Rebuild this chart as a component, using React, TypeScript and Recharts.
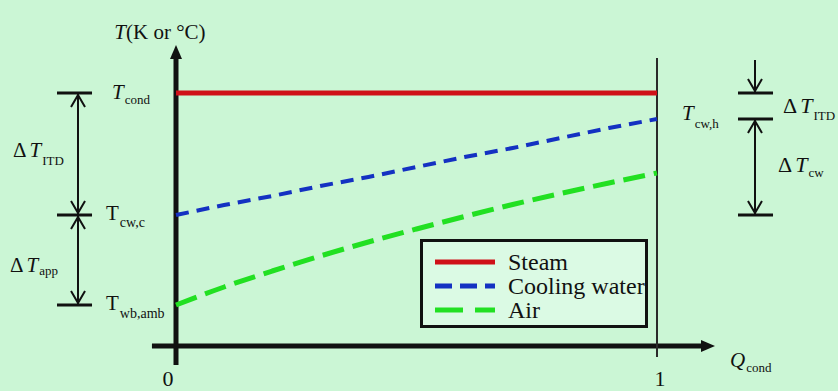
import { LineChart, Line, XAxis, YAxis, ReferenceLine, ReferenceDot, Legend } from 'recharts';

// Q_cond (normalised heat load) along the condenser
const qValues = [0, 0.1, 0.2, 0.3, 0.4, 0.5, 0.6, 0.7, 0.8, 0.9, 1];
// temperatures, arbitrary units
const steamTemp = [25.3, 25.3, 25.3, 25.3, 25.3, 25.3, 25.3, 25.3, 25.3, 25.3, 25.3];
const coolingWaterTemp = [13.1, 14.1, 15.0, 16.0, 16.9, 17.9, 18.9, 19.8, 20.8, 21.8, 22.7];
const airTemp = [4.1, 5.9, 7.5, 9.0, 10.4, 11.7, 12.95, 14.15, 15.25, 16.3, 17.3];
const xTicks = [0, 1];
const xTickLabels = ['0', '1'];

const SERIES = [
  { key: 'steam', name: 'Steam', color: '#cf1018', width: 5, dash: undefined, legendDash: undefined },
  { key: 'water', name: 'Cooling water', color: '#1431c2', width: 4, dash: '13 8', legendDash: '17 8' },
  { key: 'air', name: 'Air', color: '#22e022', width: 5, dash: '22 9', legendDash: '28 12' },
];

const data = qValues.map((q, i) => ({
  q,
  steam: steamTemp[i],
  water: coolingWaterTemp[i],
  air: airTemp[i],
}));

const FONT = '"Liberation Serif", "Times New Roman", serif';
const INK = '#111';

// chart frame (data units)
const X_DOMAIN = [-0.3659, 1.3763];
const Y_DOMAIN = [-4.5, 34.6];
const Y_AXIS_BOTTOM = -1.9;
const Y_AXIS_END = 28.8;
const Y_AXIS_TIP = 30.1;
const X_AXIS_START = -0.05;
const X_AXIS_END = 1.096;
const X_AXIS_TIP = 1.1206;
const LEFT_ARROW_X = -0.2037;
const LEFT_BAR = [-0.2474, -0.1746];
const RIGHT_ARROW_X = 1.2037;
const RIGHT_BAR = [1.1684, 1.2412];

const tCond = steamTemp[0];
const tCwC = coolingWaterTemp[0];
const tCwH = coolingWaterTemp[coolingWaterTemp.length - 1];
const tWb = airTemp[0];

const Chevron = (dir: 'up' | 'down') => (p: any) => {
  const s = dir === 'up' ? 1 : -1;
  const y0 = p.cy + s * 2;
  return (
    <polyline
      points={`${p.cx - 7},${y0 + s * 12} ${p.cx},${y0} ${p.cx + 7},${y0 + s * 12}`}
      fill="none"
      stroke={INK}
      strokeWidth={2}
    />
  );
};

const Triangle = (dir: 'up' | 'right') => (p: any) => {
  const pts =
    dir === 'up'
      ? `${p.cx},${p.cy} ${p.cx - 6},${p.cy + 14} ${p.cx + 6},${p.cy + 14}`
      : `${p.cx},${p.cy} ${p.cx - 14},${p.cy - 6} ${p.cx - 14},${p.cy + 6}`;
  return <polygon points={pts} fill={INK} />;
};

type Spec = {
  dx: number;
  dy: number;
  main: string;
  italic?: boolean;
  delta?: boolean;
  sub?: string;
  subDy?: number;
  tail?: string;
  size?: number;
  subSize?: number;
  anchor?: 'start' | 'middle';
};

const MathLabel = (s: Spec) => (p: any) => (
  <text
    x={p.cx + s.dx}
    y={p.cy + s.dy}
    fontFamily={FONT}
    fontSize={s.size ?? 21}
    fill={INK}
    textAnchor={s.anchor ?? 'start'}
  >
    {s.delta && <tspan>Δ</tspan>}
    <tspan dx={s.delta ? 3 : 0} fontStyle={s.italic ? 'italic' : 'normal'}>
      {s.main}
    </tspan>
    {s.tail && <tspan>{s.tail}</tspan>}
    {s.sub && (
      <tspan fontSize={s.subSize ?? 13} dy={s.subDy ?? 5} dx={1}>
        {s.sub}
      </tspan>
    )}
  </text>
);

const LegendBox = () => (
  <div
    style={{
      boxSizing: 'border-box',
      width: 228,
      height: 89,
      border: `3px solid ${INK}`,
      background: '#dbfae4',
      padding: '8px 0 3px 12px',
      fontFamily: FONT,
    }}
  >
    {SERIES.map((s) => (
      <div key={s.key} style={{ display: 'flex', alignItems: 'center', height: 24, whiteSpace: 'nowrap' }}>
        <svg width={60} height={10}>
          <line x1={0} y1={5} x2={60} y2={5} stroke={s.color} strokeWidth={5} strokeDasharray={s.legendDash} />
        </svg>
        <span style={{ marginLeft: 13, fontSize: 24, lineHeight: '24px', color: INK, fontFamily: FONT }}>
          {s.name}
        </span>
      </div>
    ))}
  </div>
);

const labels: { x: number; y: number; spec: Spec }[] = [
  { x: 0, y: Y_AXIS_TIP, spec: { dx: -16, dy: -6, main: 'T', italic: true, tail: '(K or °C)', anchor: 'middle' } },
  { x: 0, y: tCond, spec: { dx: -64, dy: 6, main: 'T', italic: true, sub: 'cond', subDy: 5 } },
  { x: 0, y: tCwC, spec: { dx: -70, dy: 5, main: 'T', sub: 'cw,c', subDy: 7, subSize: 14 } },
  { x: 0, y: tWb, spec: { dx: -70, dy: 5, main: 'T', sub: 'wb,amb', subDy: 8, subSize: 14 } },
  { x: LEFT_ARROW_X, y: (tCond + tCwC) / 2, spec: { dx: -65, dy: 3, delta: true, main: 'T', italic: true, sub: 'ITD', subDy: 8 } },
  { x: LEFT_ARROW_X, y: (tCwC + tWb) / 2, spec: { dx: -68, dy: 12, delta: true, main: 'T', italic: true, sub: 'app', subDy: 3 } },
  { x: 1, y: tCwH, spec: { dx: 25, dy: 1, main: 'T', italic: true, sub: 'cw,h', subDy: 8 } },
  { x: RIGHT_ARROW_X, y: (tCond + tCwH) / 2, spec: { dx: 28, dy: 7, delta: true, main: 'T', italic: true, sub: 'ITD', subDy: 7, size: 22 } },
  { x: RIGHT_ARROW_X, y: (tCwH + tCwC) / 2, spec: { dx: 23, dy: 5, delta: true, main: 'T', italic: true, sub: 'cw', subDy: 5, size: 22 } },
  { x: X_AXIS_TIP, y: 0, spec: { dx: 15, dy: 21, main: 'Q', italic: true, sub: 'cond', subDy: 5 } },
  ...xTicks.map((t, i) => ({
    x: t,
    y: 0,
    spec: { dx: i === 0 ? -8 : 3, dy: 40, main: xTickLabels[i], anchor: 'middle' as const, size: 22 },
  })),
];

const seg = (x1: number, y1: number, x2: number, y2: number) => [
  { x: x1, y: y1 },
  { x: x2, y: y2 },
];

export default function App() {
  return (
    <div style={{ width: 838, height: 391, background: '#cbf6d5' }}>
      <style>{'body{margin:0}'}</style>
      <LineChart width={838} height={391} data={data} margin={{ top: 0, right: 0, bottom: 0, left: 0 }}>
        <XAxis dataKey="q" type="number" domain={X_DOMAIN} allowDataOverflow hide />
        <YAxis type="number" domain={Y_DOMAIN} allowDataOverflow hide />

        {/* axes with arrow heads */}
        <ReferenceLine segment={seg(0, Y_AXIS_BOTTOM, 0, Y_AXIS_END)} stroke={INK} strokeWidth={5} />
        <ReferenceDot x={0} y={Y_AXIS_TIP} shape={Triangle('up')} />
        <ReferenceLine segment={seg(X_AXIS_START, 0, X_AXIS_END, 0)} stroke={INK} strokeWidth={5} />
        <ReferenceDot x={X_AXIS_TIP} y={0} shape={Triangle('right')} />
        <ReferenceLine segment={seg(1, -1.1, 1, Y_AXIS_END)} stroke="#2a2a2a" strokeWidth={2} />

        {/* left dimension marks */}
        <ReferenceLine segment={seg(LEFT_ARROW_X, tWb, LEFT_ARROW_X, tCond)} stroke={INK} strokeWidth={2} />
        {[tCond, tCwC, tWb].map((v) => (
          <ReferenceLine key={`lb${v}`} segment={seg(LEFT_BAR[0], v, LEFT_BAR[1], v)} stroke={INK} strokeWidth={3} />
        ))}
        <ReferenceDot x={LEFT_ARROW_X} y={tCond} shape={Chevron('up')} />
        <ReferenceDot x={LEFT_ARROW_X} y={tCwC} shape={Chevron('down')} />
        <ReferenceDot x={LEFT_ARROW_X} y={tCwC} shape={Chevron('up')} />
        <ReferenceDot x={LEFT_ARROW_X} y={tWb} shape={Chevron('down')} />

        {/* right dimension marks */}
        <ReferenceLine segment={seg(RIGHT_ARROW_X, tCond + 3.3, RIGHT_ARROW_X, tCond)} stroke={INK} strokeWidth={2} />
        <ReferenceLine segment={seg(RIGHT_ARROW_X, tCwH, RIGHT_ARROW_X, tCwC)} stroke={INK} strokeWidth={2} />
        {[tCond, tCwH, tCwC].map((v) => (
          <ReferenceLine key={`rb${v}`} segment={seg(RIGHT_BAR[0], v, RIGHT_BAR[1], v)} stroke={INK} strokeWidth={3} />
        ))}
        <ReferenceDot x={RIGHT_ARROW_X} y={tCond} shape={Chevron('down')} />
        <ReferenceDot x={RIGHT_ARROW_X} y={tCwH} shape={Chevron('up')} />
        <ReferenceDot x={RIGHT_ARROW_X} y={tCwC} shape={Chevron('down')} />

        {labels.map((l, i) => (
          <ReferenceDot key={`lab${i}`} x={l.x} y={l.y} shape={MathLabel(l.spec)} />
        ))}

        {SERIES.map((s) => (
          <Line
            key={s.key}
            dataKey={s.key}
            name={s.name}
            type={s.key === 'air' ? 'monotone' : 'linear'}
            stroke={s.color}
            strokeWidth={s.width}
            strokeDasharray={s.dash}
            dot={false}
            activeDot={false}
            isAnimationActive={false}
          />
        ))}

        <Legend
          layout="vertical"
          align="center"
          verticalAlign="middle"
          content={LegendBox}
          wrapperStyle={{ left: 420, top: 239, width: 228, height: 89 }}
        />
      </LineChart>
    </div>
  );
}
